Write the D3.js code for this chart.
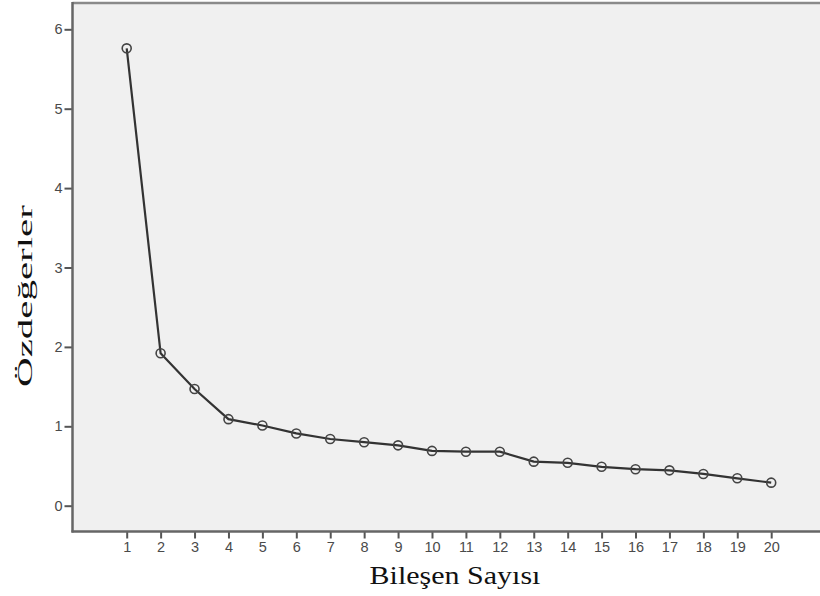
<!DOCTYPE html>
<html><head><meta charset="utf-8">
<script src="https://cdn.jsdelivr.net/npm/d3@7"></script>
<style>html,body{margin:0;padding:0;background:#fff;}svg{display:block;}</style>
</head><body>
<svg id="c" width="820" height="596"></svg>
<script>
const components = [1,2,3,4,5,6,7,8,9,10,11,12,13,14,15,16,17,18,19,20];
const eigenvalues = [5.76,1.92,1.47,1.09,1.01,0.91,0.84,0.80,0.76,0.69,0.68,0.68,0.555,0.54,0.49,0.46,0.445,0.40,0.345,0.29];
const yTicks = [0,1,2,3,4,5,6];
const xLabel = "Bileşen Sayısı";
const yLabel = "Özdeğerler";

(function(){
const svg = d3.select("#c");
const x = d3.scaleLinear().domain([1,20]).range([126.7,771.2]);
const y = d3.scaleLinear().domain([0,6]).range([505.7,29.3]);

const pL = 72.5, pT = 3, pB = 531.5, pR = 840;

svg.append("rect").attr("x",pL).attr("y",pT).attr("width",pR-pL).attr("height",pB-pT)
  .attr("fill","#f0f0f0");
svg.append("line").attr("x1",pL).attr("x2",pR).attr("y1",pT).attr("y2",pT)
  .attr("stroke","#8a8a8a").attr("stroke-width",2.5);

const yAxis = svg.append("g").attr("transform",`translate(${pL},0)`)
  .call(d3.axisLeft(y).tickValues(yTicks).tickFormat(d3.format("d")).tickSize(8).tickPadding(2));
const xAxis = svg.append("g").attr("transform",`translate(0,${pB})`)
  .call(d3.axisBottom(x).tickValues(components).tickFormat(d3.format("d")).tickSize(7).tickPadding(3));
[yAxis,xAxis].forEach(g=>{
  g.select(".domain").remove();
  g.selectAll("line").attr("stroke","#555").attr("stroke-width",2);
  g.selectAll("text").attr("fill","#4a4a4a").style("font-family","'Liberation Sans',Arial,sans-serif").style("font-size","14.5px");
});
svg.append("line").attr("x1",pL).attr("x2",pL).attr("y1",pT-1).attr("y2",pB+1)
  .attr("stroke","#666").attr("stroke-width",2.5);
svg.append("line").attr("x1",pL-1).attr("x2",pR).attr("y1",pB).attr("y2",pB)
  .attr("stroke","#666").attr("stroke-width",2.5);

const line = d3.line().x((d,i)=>x(components[i])).y(d=>y(d));
svg.append("path").datum(eigenvalues).attr("d",line).attr("fill","none")
  .attr("stroke","#333").attr("stroke-width",2.2);
svg.append("g").selectAll("circle").data(eigenvalues).join("circle")
  .attr("cx",(d,i)=>x(components[i])).attr("cy",d=>y(d)).attr("r",4.5)
  .attr("fill","none").attr("stroke","#444").attr("stroke-width",1.6);

svg.append("text").attr("transform","translate(455,584) scale(1.2,1)").attr("text-anchor","middle")
  .style("font-family","'Liberation Serif','Times New Roman',serif").style("font-size","25px")
  .attr("fill","#111").text(xLabel);
svg.append("text").attr("transform","translate(32,296) rotate(-90) scale(1.95,1)").attr("text-anchor","middle")
  .style("font-family","'Liberation Serif','Times New Roman',serif").style("font-size","21px")
  .attr("fill","#111").text(yLabel);
})();
</script>
</body></html>
